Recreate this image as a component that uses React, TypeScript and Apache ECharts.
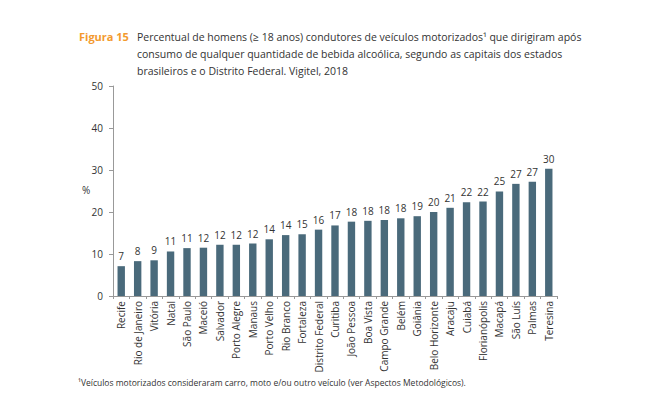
import React, { useEffect, useRef } from "react";
import * as echarts from "echarts";

const categories = [
  "Recife", "Rio de Janeiro", "Vitória", "Natal", "São Paulo", "Maceió", "Salvador",
  "Porto Alegre", "Manaus", "Porto Velho", "Rio Branco", "Fortaleza", "Distrito Federal",
  "Curitiba", "João Pessoa", "Boa Vista", "Campo Grande", "Belém", "Goiânia",
  "Belo Horizonte", "Aracaju", "Cuiabá", "Florianópolis", "Macapá", "São Luís",
  "Palmas", "Teresina",
];
const values = [
  7.1, 8.3, 8.5, 10.6, 11.4, 11.5, 12.2, 12.2, 12.5, 13.5, 14.5, 14.7, 15.8,
  16.8, 17.7, 17.9, 18.1, 18.5, 19.0, 20.0, 21.0, 22.3, 22.5, 24.9, 26.7, 27.2, 30.3,
];
const valueLabels = [
  "7", "8", "9", "11", "11", "12", "12", "12", "12", "14", "14", "15", "16",
  "17", "18", "18", "18", "18", "19", "20", "21", "22", "22", "25", "27", "27", "30",
];
const titleLines = [
  "Percentual de homens (≥ 18 anos) condutores de veículos motorizados¹ que dirigiram após",
  "consumo de qualquer quantidade de bebida alcoólica, segundo as capitais dos estados",
  "brasileiros e o Distrito Federal. Vigitel, 2018",
];
const footnote =
  "¹Veículos motorizados consideraram carro, moto e/ou outro veículo (ver Aspectos Metodológicos).";

const FONT = "'Open Sans', 'Noto Sans', sans-serif";

export default function App() {
  const ref = useRef<HTMLDivElement>(null);
  useEffect(() => {
    if (!ref.current) return;
    const chart = echarts.init(ref.current, null, { renderer: "svg" });
    chart.setOption({
      animation: false,
      textStyle: { fontFamily: FONT },
      grid: { left: 113, right: 100, top: 86, bottom: 102, containLabel: false },
      xAxis: {
        type: "category",
        data: categories,
        axisLine: { lineStyle: { color: "#999" } },
        axisTick: { show: true, alignWithLabel: false, length: 3, lineStyle: { color: "#999" } },
        axisLabel: {
          interval: 0,
          rotate: 90,
          fontSize: 10,
          color: "#333",
          margin: 5,
          fontFamily: FONT,
        },
      },
      yAxis: {
        type: "value",
        min: 0,
        max: 50,
        interval: 10,
        axisLine: { show: true, lineStyle: { color: "#999" } },
        axisTick: { show: true, length: 4, lineStyle: { color: "#999" } },
        splitLine: { show: false },
        axisLabel: { fontSize: 10, color: "#333", margin: 10, fontFamily: FONT },
      },
      series: [
        {
          type: "bar",
          data: values,
          barWidth: "45%",
          itemStyle: { color: "#4a6a7b" },
          label: {
            show: true,
            position: "top",
            distance: 5,
            fontSize: 10,
            color: "#333",
            fontFamily: FONT,
            formatter: (p: any) => valueLabels[p.dataIndex],
          },
        },
      ],
      graphic: [
        {
          type: "text",
          left: 79,
          top: 31,
          style: { text: "Figura 15", fill: "#f39a2e", font: `bold 11px ${FONT}` },
        },
        ...titleLines.map((t, i) => ({
          type: "text",
          left: 137,
          top: 31 + i * 17,
          style: { text: t, fill: "#333", font: `10.5px ${FONT}` },
        })),
        {
          type: "text",
          left: 82,
          top: 185,
          style: { text: "%", fill: "#333", font: `10px ${FONT}` },
        },
        {
          type: "text",
          left: 78,
          top: 378,
          style: { text: footnote, fill: "#333", font: `8.5px ${FONT}` },
        },
      ],
    });
    return () => chart.dispose();
  }, []);
  return <div ref={ref} style={{ width: 657, height: 398, position: "absolute", left: 0, top: 0, background: "#fff" }} />;
}
